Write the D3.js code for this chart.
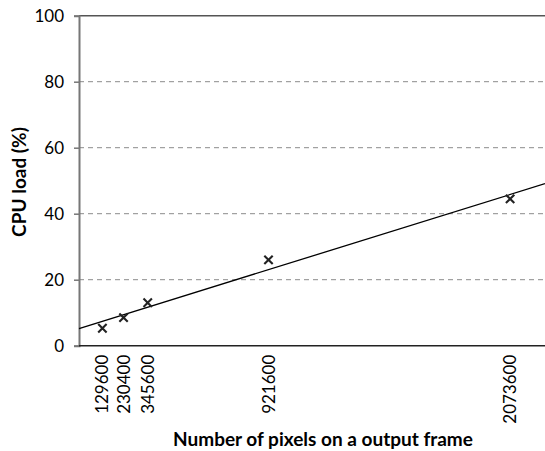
<!DOCTYPE html>
<html><head><meta charset="utf-8">
<script src="https://cdn.jsdelivr.net/npm/d3@7"></script>
<style>
html,body{margin:0;padding:0;background:#fff;}
svg{display:block;}
text{font-family:Lato, "Open Sans", sans-serif;fill:#000;}
</style></head>
<body>
<svg id="c" width="545" height="451"></svg>
<script>
const pixels = [129600, 230400, 345600, 921600, 2073600];
const cpuLoad = [5.3, 8.5, 13.0, 26.0, 44.5];
const xTickLabels = ["129600", "230400", "345600", "921600", "2073600"];
const yTicks = [0, 20, 40, 60, 80, 100];

const svg = d3.select("#c");
const L = 79, R = 545, T = 15.7, B = 345.7;
const x = d3.scaleLinear().domain([18000, 2240000]).range([L, R]);
const y = d3.scaleLinear().domain([0, 100]).range([B, T]);

// gridlines
svg.append("g").selectAll("line").data(yTicks.filter(d => d > 0 && d < 100)).join("line")
  .attr("x1", L).attr("x2", R).attr("y1", d => y(d)).attr("y2", d => y(d))
  .attr("stroke", "#8c8c8c").attr("stroke-width", 1).attr("stroke-dasharray", "5,4");
// top line
svg.append("line").attr("x1", L).attr("x2", R).attr("y1", y(100)).attr("y2", y(100))
  .attr("stroke", "#555").attr("stroke-width", 1.6);

// y axis
const yAxis = d3.axisLeft(y).tickValues(yTicks).tickSize(5).tickPadding(10).tickFormat(d3.format("d"));
const gy = svg.append("g").attr("transform", `translate(${L},0)`).call(yAxis);
gy.select(".domain").attr("stroke", "#777").attr("stroke-width", 2);
gy.selectAll(".tick line").attr("stroke", "#777").attr("stroke-width", 1.5);
gy.selectAll(".tick text").attr("font-size", 17).attr("font-family", "Lato").attr("fill", "#000");

// x axis line
svg.append("line").attr("x1", L).attr("x2", R).attr("y1", y(0)).attr("y2", y(0))
  .attr("stroke", "#222").attr("stroke-width", 1.6);

// x tick labels (rotated)
svg.append("g").selectAll("text").data(pixels).join("text")
  .attr("transform", (d) => `translate(${x(d) + 6},${y(0) + 9}) rotate(-90)`)
  .attr("text-anchor", "end")
  .attr("font-size", 17)
  .text((d, i) => xTickLabels[i]);

// trendline (least squares)
const n = pixels.length;
const mx = d3.mean(pixels), my = d3.mean(cpuLoad);
let sxy = 0, sxx = 0;
for (let i = 0; i < n; i++) { sxy += (pixels[i] - mx) * (cpuLoad[i] - my); sxx += (pixels[i] - mx) ** 2; }
const slope = sxy / sxx, icpt = my - slope * mx;
const xd = x.domain();
svg.append("line")
  .attr("x1", x(xd[0])).attr("y1", y(icpt + slope * xd[0]))
  .attr("x2", x(xd[1])).attr("y2", y(icpt + slope * xd[1]))
  .attr("stroke", "#000").attr("stroke-width", 1.3);

// markers (x)
const s = 4.2;
svg.append("g").selectAll("path").data(pixels).join("path")
  .attr("d", (d, i) => {
    const cx = x(d), cy = y(cpuLoad[i]);
    return `M${cx - s},${cy - s}L${cx + s},${cy + s}M${cx - s},${cy + s}L${cx + s},${cy - s}`;
  })
  .attr("stroke", "#222").attr("stroke-width", 2.1).attr("fill", "none");

// axis titles
svg.append("text").attr("transform", `translate(26,182) rotate(-90)`)
  .attr("text-anchor", "middle").attr("font-weight", "bold").attr("font-size", 19)
  .text("CPU load (%)");
svg.append("text").attr("x", 323).attr("y", 446)
  .attr("text-anchor", "middle").attr("font-weight", "bold").attr("font-size", 19)
  .text("Number of pixels on a output frame");
</script>
</body></html>
